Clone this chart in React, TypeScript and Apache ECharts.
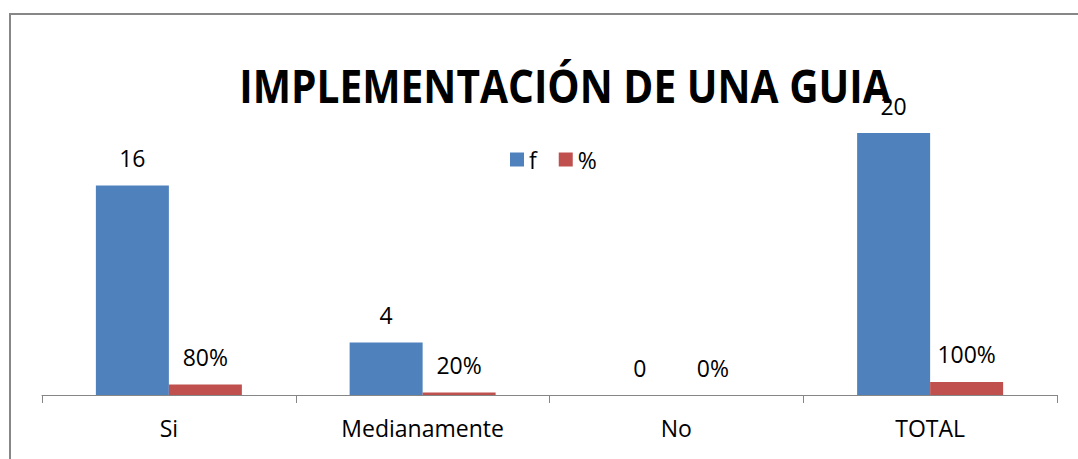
import React, { useEffect, useRef } from "react";
import * as echarts from "echarts";

const categories = ["Si", "Medianamente", "No", "TOTAL"];
const freq = [16, 4, 0, 20];
const pct = [0.8, 0.2, 0, 1];
const titleText = "IMPLEMENTACIÓN DE UNA GUIA";

export default function App() {
  const ref = useRef<HTMLDivElement>(null);
  useEffect(() => {
    const chart = echarts.init(ref.current!, null, { renderer: "svg" });
    const labelStyle = {
      show: true,
      position: "top" as const,
      distance: 16,
      fontFamily: "Open Sans",
      fontSize: 23,
      color: "#000",
    };
    chart.setOption({
      animation: false,
      backgroundColor: "#fff",
      graphic: [
        {
          type: "rect",
          shape: { x: 10, y: 14, width: 1100, height: 500 },
          style: { fill: "none", stroke: "#878787", lineWidth: 2 },
          silent: true,
        },
        {
          type: "text",
          x: 565,
          y: 86,
          scaleX: 0.884,
          style: {
            text: titleText,
            fontFamily: "Open Sans",
            fontWeight: "bold",
            fontSize: 46,
            fill: "#000",
            textAlign: "center",
            textVerticalAlign: "middle",
          },
          z: 10,
        },
      ],
      legend: {
        left: 505,
        top: 143,
        itemWidth: 14,
        itemHeight: 14,
        itemGap: 22,
        icon: "rect",
        textStyle: { fontFamily: "Open Sans", fontSize: 23, color: "#000" },
        data: ["f", "%"],
      },
      grid: { left: 42, right: 21, top: 133, bottom: 64 },
      xAxis: {
        type: "category",
        data: categories,
        axisLine: { lineStyle: { color: "#868686", width: 1 } },
        axisTick: { show: true, length: 8, lineStyle: { color: "#868686" } },
        axisLabel: {
          fontFamily: "Open Sans",
          fontSize: 23,
          color: "#000",
          margin: 21,
        },
      },
      yAxis: {
        type: "value",
        min: 0,
        max: 20,
        show: false,
        splitLine: { show: false },
      },
      series: [
        {
          name: "f",
          type: "bar",
          data: freq,
          barWidth: 73,
          barGap: "0%",
          itemStyle: { color: "#4F81BD" },
          label: labelStyle,
        },
        {
          name: "%",
          type: "bar",
          data: pct,
          barWidth: 73,
          itemStyle: { color: "#C0504D" },
          label: {
            ...labelStyle,
            formatter: (p: any) => Math.round(p.value * 100) + "%",
          },
        },
      ],
    });
    return () => chart.dispose();
  }, []);
  return (
    <div
      ref={ref}
      style={{ position: "fixed", left: 0, top: 0, width: 1078, height: 459 }}
    />
  );
}
